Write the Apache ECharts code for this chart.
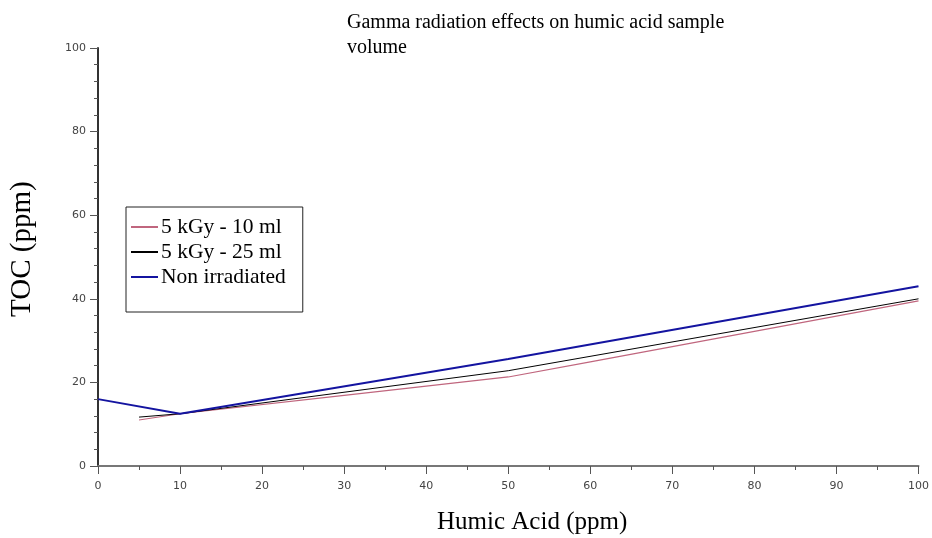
<!DOCTYPE html>
<html>
<head>
<meta charset="utf-8">
<script src="https://cdn.jsdelivr.net/npm/echarts@6/dist/echarts.min.js"></script>
<style>
  html, body { margin: 0; padding: 0; background: #fff; }
  #chart { width: 932px; height: 538px; }
</style>
</head>
<body>
<div id="chart"></div>
<script>
// humic acid (ppm) / TOC (ppm)
var seriesNames = ["5 kGy - 10 ml", "5 kGy - 25 ml", "Non irradiated"]
var x10ml = [5, 10, 30, 50, 60, 100]
var toc10ml = [11.0, 12.5, 16.9, 21.3, 24.9, 39.5]
var x25ml = [5, 10, 50, 100]
var toc25ml = [11.7, 12.5, 22.8, 40.0]
var xNonIrr = [0, 10, 50, 100]
var tocNonIrr = [16.0, 12.5, 25.6, 43.0]

var colors = ["#c0667e", "#000000", "#1414a0"]

function pairs(xs, ys) {
  return xs.map(function (x, i) { return [x, ys[i]] })
}

var chart = echarts.init(document.getElementById("chart"))

var axisLbl = { color: "#444", fontFamily: "DejaVu Sans", fontSize: 11 }

chart.setOption({
  backgroundColor: "#fff",
  animation: false,
  title: {
    text: "Gamma radiation effects on humic acid sample\nvolume",
    left: 342,
    top: 5,
    textStyle: {
      fontFamily: "Liberation Serif",
      fontWeight: "normal",
      fontSize: 20,
      lineHeight: 25,
      color: "#000"
    }
  },
  legend: {
    orient: "vertical",
    left: 126,
    top: 207,
    padding: [9, 17, 24, 5],
    itemGap: 3,
    itemWidth: 27,
    itemHeight: 2,
    borderColor: "#222",
    borderWidth: 1,
    data: [
      { name: seriesNames[0], icon: "rect" },
      { name: seriesNames[1], icon: "rect" },
      { name: seriesNames[2], icon: "rect" }
    ],
    textStyle: {
      fontFamily: "Liberation Serif",
      fontSize: 21.5,
      color: "#000",
      padding: [0, 0, 0, -2]
    }
  },
  grid: { left: 98, right: 11, top: 48, bottom: 72 },
  xAxis: {
    type: "value",
    min: 0,
    max: 100,
    interval: 10,
    splitLine: { show: false },
    axisLine: { lineStyle: { color: "#777", width: 2 } },
    axisTick: { length: 8, lineStyle: { color: "#555" } },
    minorTick: { show: true, splitNumber: 2, length: 4, lineStyle: { color: "#555" } },
    axisLabel: Object.assign({ margin: 15 }, axisLbl)
  },
  yAxis: {
    type: "value",
    min: 0,
    max: 100,
    interval: 20,
    splitLine: { show: false },
    axisLine: { show: true, lineStyle: { color: "#333", width: 2 } },
    axisTick: { show: true, length: 8, lineStyle: { color: "#555" } },
    minorTick: { show: true, splitNumber: 5, length: 4, lineStyle: { color: "#555" } },
    axisLabel: Object.assign({ margin: 12 }, axisLbl)
  },
  graphic: [
    {
      type: "text",
      left: 437,
      top: 510,
      style: { text: "Humic Acid (ppm)", font: "25px 'Liberation Serif'", fill: "#000" }
    },
    {
      type: "text",
      x: 8,
      y: 317,
      rotation: Math.PI / 2,
      style: { text: "TOC (ppm)", font: "29px 'Liberation Serif'", fill: "#000" }
    }
  ],
  series: [
    {
      name: seriesNames[0],
      type: "line",
      symbol: "none",
      data: pairs(x10ml, toc10ml),
      lineStyle: { color: colors[0], width: 1.2 },
      itemStyle: { color: colors[0] }
    },
    {
      name: seriesNames[1],
      type: "line",
      symbol: "none",
      data: pairs(x25ml, toc25ml),
      lineStyle: { color: colors[1], width: 1 },
      itemStyle: { color: colors[1] }
    },
    {
      name: seriesNames[2],
      type: "line",
      symbol: "none",
      data: pairs(xNonIrr, tocNonIrr),
      lineStyle: { color: colors[2], width: 2 },
      itemStyle: { color: colors[2] }
    }
  ]
})
</script>
</body>
</html>
